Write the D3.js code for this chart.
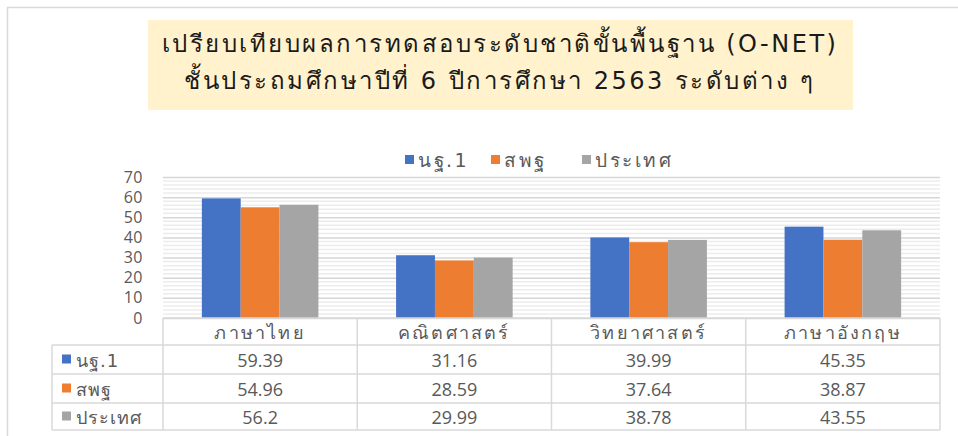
<!DOCTYPE html>
<html>
<head>
<meta charset="utf-8">
<script src="https://cdn.jsdelivr.net/npm/d3@7"></script>
<style>
body { margin: 0; background: #fff; }
svg text { font-family: Tahoma, "Leelawadee UI", "DejaVu Sans", sans-serif; }
</style>
</head>
<body>
<script>
const WIDTH = 958;
const HEIGHT = 436;

var titleLines = ['เปรียบเทียบผลการทดสอบระดับชาติขั้นพื้นฐาน (O-NET)',
                  'ชั้นประถมศึกษาปีที่ 6 ปีการศึกษา 2563  ระดับต่าง ๆ'];
var subjects = ['ภาษาไทย', 'คณิตศาสตร์', 'วิทยาศาสตร์', 'ภาษาอังกฤษ'];
var seriesNames = ['นฐ.1', 'สพฐ', 'ประเทศ'];
var seriesColors = ['#4472C4', '#ED7D31', '#A5A5A5'];
var nt1 = [59.39, 31.16, 39.99, 45.35];
var obec = [54.96, 28.59, 37.64, 38.87];
var country = [56.2, 29.99, 38.78, 43.55];
var yTicks = [0, 10, 20, 30, 40, 50, 60, 70];

var seriesValues = [nt1, obec, country];

var plot = {left: 163, right: 940, top: 177, bottom: 318};
var rowLines = [318, 345, 374, 403, 430];
var labelCol = 52;

var svg = d3.select('body').append('svg')
    .attr('width', WIDTH)
    .attr('height', HEIGHT);

// outer chart border
svg.append('rect')
    .attr('x', 7.5).attr('y', 7.5)
    .attr('width', WIDTH).attr('height', HEIGHT)
    .attr('fill', 'none')
    .attr('stroke', '#d9d9d9')
    .attr('stroke-width', 1.5);

// title box
svg.append('rect')
    .attr('x', 148).attr('y', 20)
    .attr('width', 705).attr('height', 90)
    .attr('fill', '#FFF2CC');

svg.selectAll('.title')
    .data(titleLines)
    .enter().append('text')
    .attr('x', 500)
    .attr('y', function (d, i) { return 52 + i * 37; })
    .attr('text-anchor', 'middle')
    .attr('font-size', 24)
    .attr('letter-spacing', 2.5)
    .attr('fill', '#1a1a1a')
    .text(function (d) { return d; });

// legend
var legendX = [405, 491, 582];
var legend = svg.selectAll('.legend')
    .data(seriesNames)
    .enter().append('g')
    .attr('transform', function (d, i) { return 'translate(' + legendX[i] + ',160)'; });
legend.append('rect')
    .attr('x', 0).attr('y', -5)
    .attr('width', 9).attr('height', 9)
    .attr('fill', function (d, i) { return seriesColors[i]; });
legend.append('text')
    .attr('x', 13).attr('y', 7)
    .attr('font-size', 19)
    .attr('letter-spacing', 2.5)
    .attr('fill', '#595959')
    .text(function (d) { return d; });

var x0 = d3.scaleBand()
    .domain(subjects)
    .range([plot.left, plot.right]);
var x1 = d3.scaleBand()
    .domain(d3.range(seriesNames.length))
    .range([0, x0.bandwidth()])
    .paddingOuter(1);
var y = d3.scaleLinear()
    .domain([0, 70])
    .range([plot.bottom, plot.top]);

// minor gridlines
svg.append('g')
    .selectAll('line')
    .data(d3.range(0, 70, 2).filter(function (v) { return v % 10 !== 0; }))
    .enter().append('line')
    .attr('x1', plot.left).attr('x2', plot.right)
    .attr('y1', function (d) { return y(d); })
    .attr('y2', function (d) { return y(d); })
    .attr('stroke', '#ececec')
    .attr('stroke-width', 1.5);

// major gridlines
var yAxis = d3.axisLeft(y)
    .tickValues(yTicks)
    .tickSize(-(plot.right - plot.left))
    .tickPadding(20)
    .tickFormat(d3.format('d'));
var yg = svg.append('g')
    .attr('transform', 'translate(' + plot.left + ',0)')
    .call(yAxis);
yg.select('.domain').remove();
yg.selectAll('.tick line')
    .attr('stroke', '#d6d6d6')
    .attr('stroke-width', 1.5);
yg.selectAll('.tick text')
    .attr('font-size', 16)
    .attr('letter-spacing', 0.5)
    .attr('fill', '#595959')
    .style('font-family', '"Open Sans", sans-serif');

// bars
var groups = svg.selectAll('.group')
    .data(subjects)
    .enter().append('g')
    .attr('transform', function (d) { return 'translate(' + x0(d) + ',0)'; });
groups.selectAll('rect')
    .data(function (d, j) {
        return seriesValues.map(function (vals, i) { return {i: i, v: vals[j]}; });
    })
    .enter().append('rect')
    .attr('x', function (d) { return x1(d.i); })
    .attr('width', x1.bandwidth())
    .attr('y', function (d) { return y(d.v); })
    .attr('height', function (d) { return y(0) - y(d.v); })
    .attr('fill', function (d) { return seriesColors[d.i]; });

// data table
var tbl = svg.append('g')
    .attr('stroke', '#d9d9d9')
    .attr('stroke-width', 1.5);
rowLines.forEach(function (ry, r) {
    tbl.append('line')
        .attr('x1', r === 0 ? plot.left : labelCol).attr('x2', plot.right)
        .attr('y1', ry).attr('y2', ry);
});
var colEdges = subjects.map(function (s) { return x0(s); }).concat([plot.right]);
colEdges.forEach(function (cx) {
    tbl.append('line')
        .attr('x1', cx).attr('x2', cx)
        .attr('y1', rowLines[0]).attr('y2', rowLines[rowLines.length - 1]);
});
tbl.append('line')
    .attr('x1', labelCol).attr('x2', labelCol)
    .attr('y1', rowLines[1]).attr('y2', rowLines[rowLines.length - 1]);

// header: subject names
svg.selectAll('.cat')
    .data(subjects)
    .enter().append('text')
    .attr('x', function (d) { return x0(d) + x0.bandwidth() / 2; })
    .attr('y', 339)
    .attr('text-anchor', 'middle')
    .attr('font-size', 18)
    .attr('letter-spacing', 2.2)
    .attr('fill', '#595959')
    .text(function (d) { return d; });

// rows
seriesNames.forEach(function (name, i) {
    var top = rowLines[i + 1], bot = rowLines[i + 2];
    var mid = (top + bot) / 2;
    svg.append('rect')
        .attr('x', 62).attr('y', mid - 5)
        .attr('width', 9).attr('height', 9)
        .attr('fill', seriesColors[i]);
    svg.append('text')
        .attr('x', 76).attr('y', mid + 7)
        .attr('font-size', 18)
        .attr('letter-spacing', 1)
        .attr('fill', '#595959')
        .text(name);
    svg.selectAll('.val' + i)
        .data(seriesValues[i])
        .enter().append('text')
        .attr('x', function (d, j) { return x0(subjects[j]) + x0.bandwidth() / 2; })
        .attr('y', mid + 7)
        .attr('text-anchor', 'middle')
        .attr('font-size', 18)
        .attr('fill', '#595959')
        .style('font-family', '"Open Sans", sans-serif')
        .text(function (d) { return d; });
});
</script>
</body>
</html>
